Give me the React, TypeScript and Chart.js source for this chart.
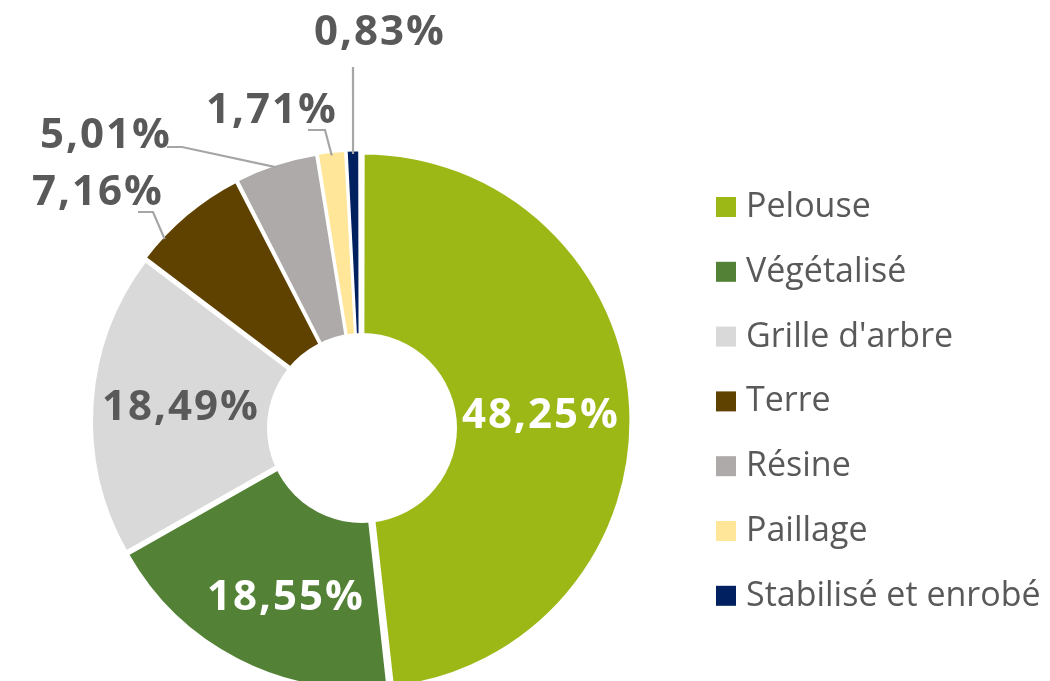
import React, { useEffect, useRef } from "react";
import { Chart, registerables } from "chart.js";

Chart.register(...registerables);

// ---- data ----
const categories = [
  "Pelouse",
  "Végétalisé",
  "Grille d'arbre",
  "Terre",
  "Résine",
  "Paillage",
  "Stabilisé et enrobé",
];
const shares = [48.25, 18.55, 18.49, 7.16, 5.01, 1.71, 0.83];
const valueLabels = ["48,25%", "18,55%", "18,49%", "7,16%", "5,01%", "1,71%", "0,83%"];
const sliceColors = ["#9BB817", "#538135", "#D9D9D9", "#5F4100", "#AEAAAA", "#FFE699", "#002060"];
const labelColors = ["#FFFFFF", "#FFFFFF", "#595959", "#595959", "#595959", "#595959", "#595959"];

// ---- layout (relative to the pie centre) ----
const LABEL_OFFSETS: number[][] = [
  [181, 7],
  [-74, 189],
  [-179, -1],
  [-262, -216],
  [-254, -273],
  [-88, -298],
  [20, -376],
];
// [startDx, startDy, elbowDx, elbowDy, fraction of slice angle]
const LEADERS: (number[] | null)[] = [
  null,
  null,
  null,
  [-222, -209, -207, -209, 0.23],
  [-193, -274, -178, -274, 0.5],
  [-52, -291, -35, -291, 0.5],
  [-7, -354, -7, -354, 0.5],
];
const HOLE = { dx: 2, dy: 7, r: 95 };
const LEGEND = { boxX: 716, textX: 746, firstY: 207, step: 64.8, box: 20 };

const overlayPlugin = {
  id: "overlay",
  afterDatasetsDraw(chart: any) {
    const ctx: CanvasRenderingContext2D = chart.ctx;
    const arcs = chart.getDatasetMeta(0).data;
    if (!arcs.length) return;
    const cx = arcs[0].x;
    const cy = arcs[0].y;

    // doughnut hole
    ctx.save();
    ctx.fillStyle = "#FFFFFF";
    ctx.beginPath();
    ctx.arc(cx + HOLE.dx, cy + HOLE.dy, HOLE.r, 0, Math.PI * 2);
    ctx.fill();
    ctx.restore();

    // leader lines
    ctx.save();
    ctx.strokeStyle = "#A6A6A6";
    ctx.lineWidth = 2.2;
    LEADERS.forEach((ld, i) => {
      if (!ld) return;
      const a: any = arcs[i];
      const ang = a.startAngle + (a.endAngle - a.startAngle) * ld[4];
      const r = a.outerRadius + 2;
      const ex = cx + Math.cos(ang) * r;
      const ey = cy + Math.sin(ang) * r;
      ctx.beginPath();
      ctx.moveTo(cx + ld[0], cy + ld[1]);
      ctx.lineTo(cx + ld[2], cy + ld[3]);
      ctx.lineTo(ex, ey);
      ctx.stroke();
    });
    ctx.restore();

    // value labels
    ctx.save();
    ctx.font = 'bold 42px "Open Sans"';
    (ctx as any).letterSpacing = "2px";
    ctx.textAlign = "center";
    ctx.textBaseline = "alphabetic";
    valueLabels.forEach((t, i) => {
      ctx.fillStyle = labelColors[i];
      ctx.fillText(t, cx + LABEL_OFFSETS[i][0], cy + LABEL_OFFSETS[i][1]);
    });
    ctx.restore();

    // legend
    ctx.save();
    ctx.font = '34px "Open Sans"';
    ctx.textAlign = "left";
    ctx.textBaseline = "alphabetic";
    const labels = chart.data.labels as string[];
    const bg = chart.data.datasets[0].backgroundColor as string[];
    labels.forEach((lab, i) => {
      const yc = LEGEND.firstY + i * LEGEND.step;
      ctx.fillStyle = bg[i];
      ctx.fillRect(LEGEND.boxX, yc - LEGEND.box / 2, LEGEND.box, LEGEND.box);
      ctx.fillStyle = "#595959";
      ctx.fillText(lab, LEGEND.textX, yc + 10);
    });
    ctx.restore();
  },
};

export default function App() {
  const ref = useRef<HTMLCanvasElement | null>(null);
  useEffect(() => {
    if (!ref.current) return;
    const chart = new Chart(ref.current, {
      type: "doughnut",
      data: {
        labels: categories,
        datasets: [
          {
            data: shares,
            backgroundColor: sliceColors,
            borderColor: "#FFFFFF",
            borderWidth: 2.5,
            offset: 12,
            hoverOffset: 0,
          },
        ],
      },
      options: {
        responsive: false,
        animation: false,
        cutout: "30%",
        radius: 265,
        layout: { padding: { left: 100, right: 430, top: 161, bottom: 0 } },
        plugins: {
          legend: { display: false },
          tooltip: { enabled: false },
        },
      },
      plugins: [overlayPlugin],
    });
    return () => chart.destroy();
  }, []);
  return (
    <div style={{ position: "absolute", left: 0, top: 0, width: 1050, height: 681, background: "#FFFFFF" }}>
      <canvas ref={ref} width={1050} height={681} style={{ display: "block" }} />
    </div>
  );
}
